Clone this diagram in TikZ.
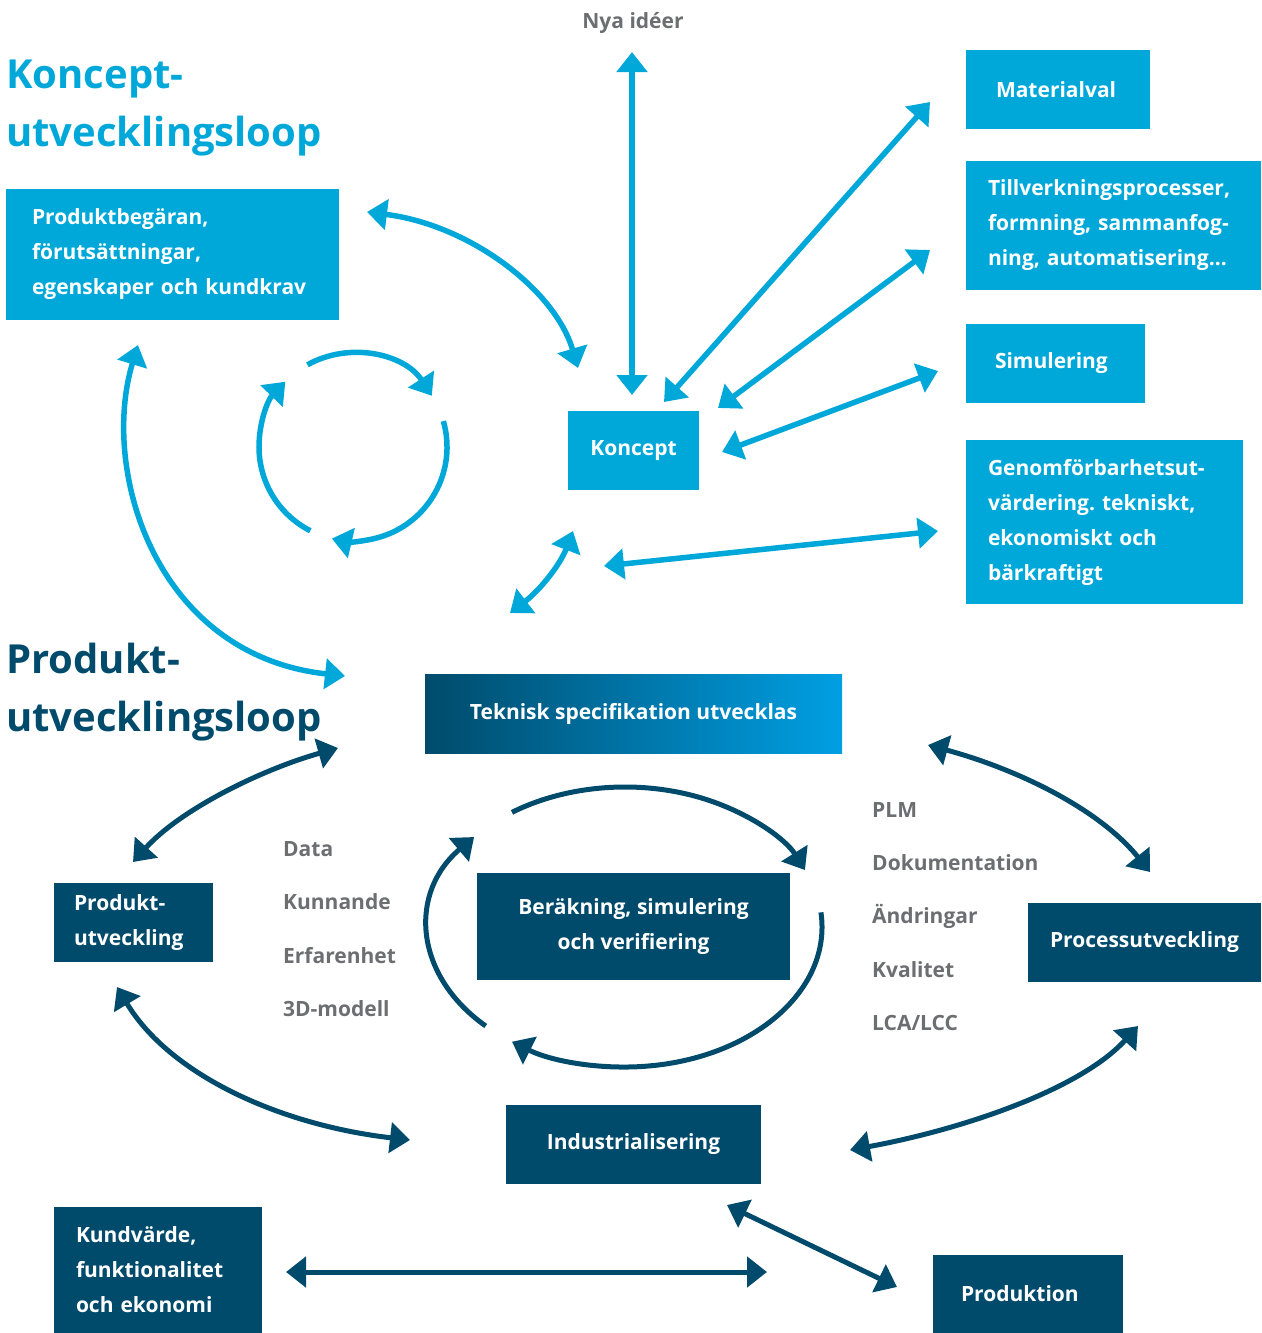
\documentclass[tikz,border=0pt]{standalone}
\usepackage{fontspec}
\setmainfont{Open Sans}
\usetikzlibrary{arrows.meta,calc}
\definecolor{cb}{HTML}{00A8D9}
\definecolor{cd}{HTML}{004B6B}
\definecolor{cg}{HTML}{6D6E71}
\definecolor{cgr}{HTML}{009FE3}
\begin{document}
\begin{tikzpicture}[x=1pt,y=-1pt,
  >={Triangle[length=20pt,width=30pt]},
  box/.style={rectangle, inner sep=0pt, text=white, font=\fontsize{21}{35}\selectfont\bfseries},
  lbox/.style={box, fill=cb},
  dbox/.style={box, fill=cd},
  lbl/.style={text=cg, font=\fontsize{21}{25}\selectfont\bfseries, inner sep=0pt, anchor=base west},
  ttl/.style={anchor=base west, inner sep=0pt, align=left, font=\fontsize{40}{58}\selectfont\bfseries},
  la/.style={draw=cb, line width=5.5pt, <->},
  la1/.style={draw=cb, line width=5.5pt, ->},
  da/.style={draw=cd, line width=5pt, <->},
  da1/.style={draw=cd, line width=5pt, ->}]
\useasboundingbox (0,0) rectangle (1261,1333);

% titles
\node[ttl, text=cb] (t1) at (6,146) {Koncept-\\utvecklingsloop};
\node[ttl, text=cd] (t2) at (6,731) {Produkt-\\utvecklingsloop};
\node[text=cg, font=\fontsize{21}{25}\selectfont\bfseries, inner sep=0pt, anchor=base] (nya) at (633,28) {Nya idéer};

% light boxes
\node[lbox, minimum width=333pt, minimum height=131pt, text width=281pt, align=left] (prod) at (172.5,254.5)
  {Produktbegäran,\\förutsättningar,\\egenskaper~och~kundkrav};
\node[lbox, minimum width=184pt, minimum height=79pt, text width=124pt, align=left] (mat) at (1058,89.5) {Materialval};
\node[lbox, minimum width=295pt, minimum height=129pt, text width=251pt, align=left] (till) at (1113.5,225.5)
  {Tillverkningsprocesser,\\formning,~sammanfog-\\ning,~automatisering…};
\node[lbox, minimum width=179pt, minimum height=79pt, text width=121pt, align=left] (sim) at (1055.5,363.5) {Simulering};
\node[lbox, minimum width=277pt, minimum height=164pt, text width=233pt, align=left] (gen) at (1104.5,522)
  {Genomförbarhetsut-\\värdering.~tekniskt,\\ekonomiskt~och\\bärkraftigt};
\node[lbox, minimum width=131pt, minimum height=79pt] (kon) at (633.5,450.5) {Koncept};

% gradient box
\node[box, left color=cd, right color=cgr, minimum width=417pt, minimum height=79pt] (tek) at (633.5,713.5)
  {Teknisk specifikation utvecklas};

% dark boxes
\node[dbox, minimum width=313pt, minimum height=107pt, align=center] (ber) at (633.5,926.5)
  {Beräkning, simulering\\och verifiering};
\node[dbox, minimum width=159pt, minimum height=79pt, text width=119pt, align=left] (pu) at (133.5,922.5)
  {Produkt-\\utveckling};
\node[dbox, minimum width=233pt, minimum height=79pt] (proc) at (1144.5,942.5) {Processutveckling};
\node[dbox, minimum width=255pt, minimum height=79pt] (ind) at (633.5,1144.5) {Industrialisering};
\node[dbox, minimum width=208pt, minimum height=126pt, text width=164pt, align=left] (kund) at (158,1270)
  {Kundvärde,\\funktionalitet\\och~ekonomi};
\node[dbox, minimum width=190pt, minimum height=78pt, text width=134pt, align=left] (pro) at (1028,1294) {Produktion};

% grey labels
\node[lbl] (l1) at (283,856) {Data};
\node[lbl] (l2) at (283,909) {Kunnande};
\node[lbl] (l3) at (283,963) {Erfarenhet};
\node[lbl] (l4) at (283,1016) {3D-modell};
\node[lbl] (r1) at (872,817) {PLM};
\node[lbl] (r2) at (872,870) {Dokumentation};
\node[lbl] (r3) at (872,923) {Ändringar};
\node[lbl] (r4) at (872,977) {Kvalitet};
\node[lbl] (r5) at (872,1030) {LCA/LCC};

% connector end points
\coordinate (nyaT) at (632,52);   \coordinate (konT) at (632,395);
\coordinate (matA) at (930,102);  \coordinate (konA) at (664,402);
\coordinate (tilA) at (930,250);  \coordinate (konB) at (718,408);
\coordinate (simA) at (938,371);  \coordinate (konC) at (722,452);
\coordinate (genA) at (938,531);  \coordinate (konD) at (604,566);
\coordinate (konE) at (573,531);  \coordinate (tekA) at (510,613);
\coordinate (prA) at (367,212);   \coordinate (konF) at (578,368);
\coordinate (prB) at (138,345);   \coordinate (tekB) at (345,676);
\coordinate (cc) at (353,447);
\coordinate (ec) at (625,927);
\coordinate (puA) at (133,862);   \coordinate (tekC) at (338,748);
\coordinate (puB) at (117,987);   \coordinate (indA) at (410,1140);
\coordinate (tekD) at (928,745);  \coordinate (procA) at (1150,872);
\coordinate (indB) at (850,1150); \coordinate (procB) at (1138,1026);
\coordinate (kuA) at (286,1272);  \coordinate (indC) at (767,1272);
\coordinate (indD) at (727,1205); \coordinate (proA) at (897,1287);

% light connectors
\draw[la] (nyaT) -- (konT);
\draw[la] (matA) -- (konA);
\draw[la] (tilA) -- (konB);
\draw[la] (simA) -- (konC);
\draw[la] (genA) -- (konD);
\draw[la] (konE) .. controls (560,565) and (540,590) .. (tekA);
\draw[la] (prA) .. controls (470,225) and (555,290) .. (konF);
\draw[la] (prB) .. controls (100,470) and (155,655) .. (tekB);
% concept loop circle
\draw[la1] ($(cc)+(-119:94)$) arc[start angle=-119, end angle=-33, radius=94];
\draw[la1] ($(cc)+(-16:94)$) arc[start angle=-16, end angle=103, radius=94];
\draw[la1] ($(cc)+(117:94)$) arc[start angle=117, end angle=224, radius=94];

% dark loop ellipse
\draw[da1] ($(ec)+({197*cos(-125)},{140*sin(-125)})$) arc[start angle=-125, end angle=-24, x radius=197, y radius=140];
\draw[da1] ($(ec)+({197*cos(-6)},{140*sin(-6)})$) arc[start angle=-6, end angle=125, x radius=197, y radius=140];
\draw[da1] ($(ec)+({197*cos(135)},{140*sin(135)})$) arc[start angle=135, end angle=220, x radius=197, y radius=140];

% dark connectors
\draw[da] (puA) .. controls (180,810) and (260,770) .. (tekC);
\draw[da] (puB) .. controls (170,1075) and (280,1125) .. (indA);
\draw[da] (tekD) .. controls (1020,770) and (1100,810) .. (procA);
\draw[da] (indB) .. controls (960,1130) and (1080,1090) .. (procB);
\draw[da] (kuA) -- (indC);
\draw[da] (indD) -- (proA);
\end{tikzpicture}
\end{document}
